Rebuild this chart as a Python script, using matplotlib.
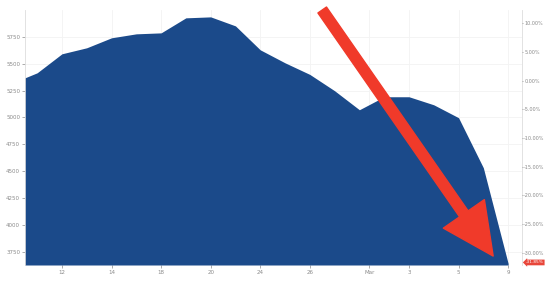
import matplotlib.pyplot as plt
import numpy as np
from matplotlib.patches import FancyArrowPatch

# Colours
COLORS = {
    'area': '#1b4a8a',
    'arrow': '#f03a2a',
    'badge': '#e8463a',
    'grid': '#f3f3f3',
    'spine': '#dddddd',
    'label': '#8a8a8a',
}

# Daily closes (index position, value); first point sits just off the left edge
day_index = [-2, -1, 0, 1, 2, 3, 4, 5, 6, 7, 8, 9, 10, 11, 12, 13, 14, 15, 16, 17, 18]
close_values = [5320, 5415, 5592, 5648, 5741, 5778, 5787, 5927, 5936, 5852,
                5629, 5508, 5400, 5248, 5071, 5192, 5192, 5117, 4997, 4531, 3640]

tick_positions = [0, 2, 4, 6, 8, 10, 12.4, 14, 16, 18]
tick_labels = ['12', '14', '18', '20', '24', '26', 'Mar', '3', '5', '9']

price_ticks = [3750, 4000, 4250, 4500, 4750, 5000, 5250, 5500, 5750]
pct_ticks = [-30, -25, -20, -15, -10, -5, 0, 5, 10]
baseline = 5341
last_change = '-31.85%'

fig = plt.figure(figsize=(5.45, 2.81), dpi=100)
ax = fig.add_axes([25 / 545, 16 / 281, 497 / 545, 255 / 281])

y_min, y_max = 3625, 6000
ax.fill_between(day_index, close_values, y_min, color=COLORS['area'],
                linewidth=0, zorder=2)
ax.set_xlim(-1.49, 18.56)
ax.set_ylim(y_min, y_max)

ax.set_xticks(tick_positions)
ax.set_xticklabels(tick_labels)
ax.set_yticks(price_ticks)
ax.set_yticklabels([str(v) for v in price_ticks])
ax.grid(True, color=COLORS['grid'], linewidth=0.6, zorder=0)
ax.set_axisbelow(True)
ax.tick_params(axis='both', labelsize=4, colors=COLORS['label'],
               length=2, width=0.5, pad=1.5)

for name, spine in ax.spines.items():
    spine.set_visible(name in ('left', 'right'))
    spine.set_color(COLORS['spine'])
    spine.set_linewidth(0.6)

# Right axis: percent change vs baseline
ax2 = ax.twinx()
ax2.set_ylim((y_min / baseline - 1) * 100, (y_max / baseline - 1) * 100)
ax2.set_yticks(pct_ticks)
ax2.set_yticklabels([f'{v:.2f}%' for v in pct_ticks])
ax2.tick_params(axis='y', labelsize=3.5, colors=COLORS['label'],
                length=1, width=0.5, pad=0.6)
for spine in ax2.spines.values():
    spine.set_visible(False)

# Current value badge
ax2.text(1.008, 0.01, last_change, transform=ax.transAxes, fontsize=3.1,
         color='white', ha='left', va='center', clip_on=False, zorder=5,
         bbox=dict(boxstyle='larrow,pad=0.2', fc=COLORS['badge'],
                   ec='none'))

# Big red arrow drawn over the chart
arrow = FancyArrowPatch((0.598, 1.0), (0.942, 0.035),
                        transform=ax.transAxes,
                        arrowstyle='simple,head_width=36,head_length=37,tail_width=7.5',
                        mutation_scale=1, shrinkA=0, shrinkB=0,
                        color=COLORS['arrow'], clip_on=False, zorder=6)
ax2.add_patch(arrow)

plt.savefig('out.png', dpi=100, facecolor='white')
